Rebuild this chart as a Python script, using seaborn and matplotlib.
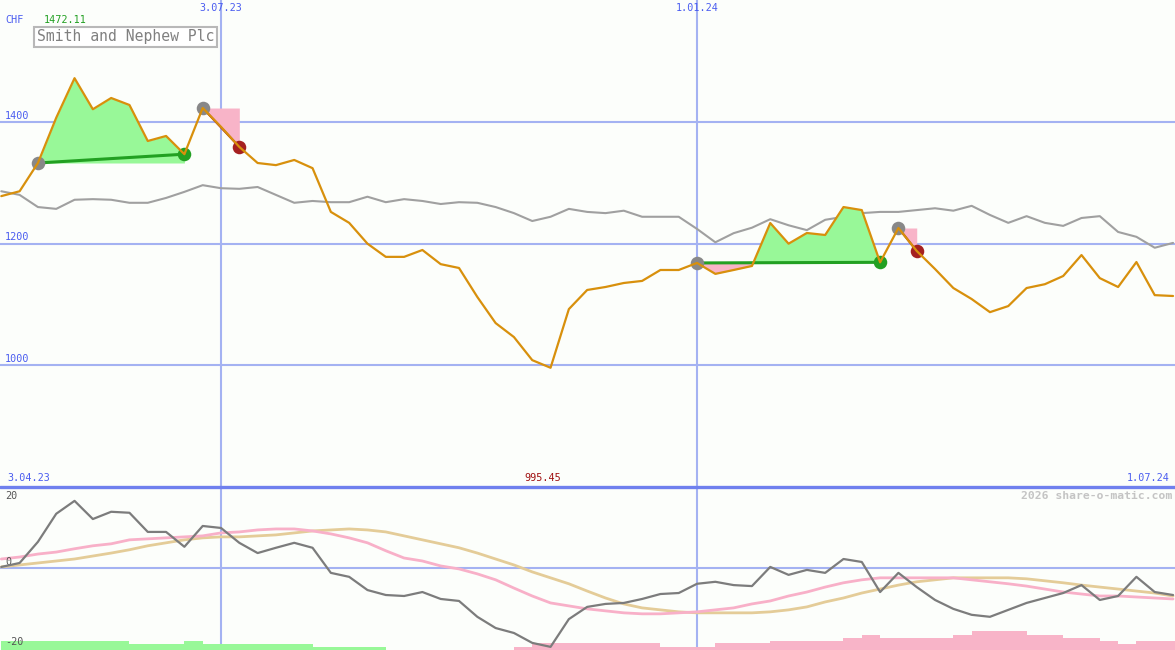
import matplotlib
matplotlib.use("Agg")
import matplotlib.pyplot as plt
import numpy as np
import pandas as pd
import seaborn as sns

# weekly closes, first week 10.04.23
first_week = "2023-04-10"
price = [1278, 1286, 1332.5, 1407, 1472.11, 1421, 1439.5, 1428, 1368.7, 1377,
         1347, 1423, 1392, 1359, 1332.5, 1329, 1337.5, 1324, 1252, 1234,
         1199.7, 1178, 1178, 1189.3, 1166, 1159.7, 1112, 1069, 1046, 1008,
         995.45, 1092, 1123.5, 1128.4, 1135, 1138.4, 1156.4, 1156.4, 1168, 1150,
         1156.4, 1163, 1233.7, 1199.7, 1217.3, 1214, 1260, 1255, 1169, 1225.5,
         1187.7, 1158, 1126.7, 1108.6, 1087, 1097, 1126.7, 1133, 1146.5, 1181,
         1143, 1128.4, 1169.5, 1115, 1113.6]
index_line = [1286, 1280, 1260, 1257, 1272, 1273, 1272, 1267, 1267, 1275,
              1285, 1296, 1291, 1290, 1293, 1280, 1267, 1270, 1268, 1268,
              1277, 1268, 1273, 1270, 1265, 1268, 1267, 1260, 1250, 1237,
              1244, 1257, 1252, 1250, 1254, 1244, 1244, 1244, 1224, 1202,
              1217, 1226, 1240, 1230, 1222, 1239, 1244, 1250, 1252, 1252,
              1255, 1258, 1254, 1262, 1247, 1234, 1245, 1234, 1229, 1242,
              1245, 1219, 1211, 1193, 1201]
momentum = [0.3, 1.5, 7.9, 16.4, 20.3, 14.8, 17.0, 16.7, 10.9, 10.9,
            6.4, 12.7, 12.1, 7.6, 4.5, 6.1, 7.6, 6.1, -1.5, -2.7,
            -6.7, -8.2, -8.5, -7.3, -9.4, -10.0, -14.8, -18.2, -19.7, -22.7,
            -23.9, -15.5, -11.8, -10.9, -10.6, -9.4, -7.9, -7.6, -4.8, -4.2,
            -5.2, -5.5, 0.3, -2.1, -0.6, -1.5, 2.7, 1.8, -7.3, -1.5,
            -5.8, -9.7, -12.4, -14.2, -14.8, -12.7, -10.6, -9.1, -7.6, -5.2,
            -9.7, -8.5, -2.7, -7.3, -8.2]
ma_fast = [2.7, 3.3, 4.2, 4.8, 5.8, 6.7, 7.3, 8.5, 8.8, 9.1,
           9.4, 9.7, 10.6, 10.9, 11.5, 11.8, 11.8, 11.2, 10.3, 9.1,
           7.6, 5.2, 3.0, 2.1, 0.6, -0.3, -1.8, -3.6, -6.1, -8.5,
           -10.6, -11.5, -12.4, -13.0, -13.6, -13.9, -13.9, -13.6, -13.3, -12.7,
           -12.1, -10.9, -10.0, -8.5, -7.3, -5.8, -4.5, -3.6, -3.0, -3.0,
           -3.0, -3.0, -3.0, -3.6, -4.2, -4.8, -5.5, -6.4, -7.3, -7.9,
           -8.5, -8.5, -8.8, -9.1, -9.4]
ma_slow = [0.3, 0.9, 1.5, 2.1, 2.7, 3.6, 4.5, 5.5, 6.7, 7.6,
           8.5, 9.1, 9.4, 9.4, 9.7, 10.0, 10.6, 11.2, 11.5, 11.8,
           11.5, 10.9, 9.7, 8.5, 7.3, 6.1, 4.5, 2.7, 0.9, -1.2,
           -3.0, -4.8, -7.0, -9.1, -10.9, -12.1, -12.7, -13.3, -13.6, -13.6,
           -13.6, -13.6, -13.3, -12.7, -11.8, -10.3, -9.1, -7.6, -6.4, -5.2,
           -4.2, -3.6, -3.0, -3.0, -3.0, -3.0, -3.3, -3.9, -4.5, -5.2,
           -5.8, -6.4, -7.0, -7.6, -8.5]
hist = [2.7, 2.7, 2.7, 2.7, 2.7, 2.7, 2.7, 1.8, 1.8, 1.8,
        2.7, 1.8, 1.8, 1.8, 1.8, 1.8, 1.8, 0.9, 0.9, 0.9,
        0.9, 0, 0, 0, 0, 0, 0, 0, -0.9, -2.1,
        -2.1, -2.1, -2.1, -2.1, -2.1, -2.1, -0.9, -0.9, -0.9, -2.1,
        -2.1, -2.1, -2.7, -2.7, -2.7, -2.7, -3.6, -4.5, -3.6, -3.6,
        -3.6, -3.6, -4.5, -5.8, -5.8, -5.8, -4.5, -4.5, -3.6, -3.6,
        -2.7, -1.8, -2.7, -2.7, -2.7]
entry_week = [2, 11, 38, 49]
exit_week = [10, 13, 48, 50]

price_ticks = [1000, 1200, 1400]
osc_ticks = [-20, 0, 20]
date_marks = ["2023-07-03", "2024-01-01"]
date_labels = ["3.07.23", "1.01.24"]
range_labels = ["3.04.23", "1.07.24"]
title = "Smith and Nephew Plc"
currency = "CHF"
credit = "2026 share-o-matic.com"

BG = "#fcfefb"
GRID = "#a4b2f2"
BLUE_TXT = "#4a5cf0"
ORANGE = "#d8900c"
GREEN_FILL = "#98f898"
PINK_FILL = "#f8b4c8"
MONO = "DejaVu Sans Mono"

sns.set_style("white")
plt.rcParams["font.family"] = [MONO]

dates = pd.date_range(first_week, periods=len(price), freq="7D")
df = pd.DataFrame({"date": dates, "price": price, "index": index_line,
                   "momentum": momentum, "ma_fast": ma_fast, "ma_slow": ma_slow,
                   "hist": hist})
x_lo = dates[0] - pd.Timedelta(hours=12)
x_hi = dates[-1] + pd.Timedelta(hours=18)

fig = plt.figure(figsize=(11.75, 6.5), dpi=100, facecolor=BG)
ax = fig.add_axes([0, 163 / 650, 1, 487 / 650])
axb = fig.add_axes([0, 0, 1, 163 / 650])
for a in (ax, axb):
    a.set_facecolor(BG)
    a.set_xlim(x_lo, x_hi)
    a.axis("off")
ax.set_ylim(799.2, 1600.8)
axb.set_ylim(-24.85, 24.5)

# grid
for t in price_ticks:
    ax.axhline(t, color=GRID, lw=1.5, zorder=1)
axb.axhline(0, color=GRID, lw=1.5, zorder=1)
for d in date_marks:
    for a in (ax, axb):
        a.axvline(pd.Timestamp(d), color=GRID, lw=1.5, zorder=1)
axb.axhline(24.5, color="#6f80ee", lw=2.4, zorder=5, clip_on=False)

# top panel lines
sns.lineplot(data=df, x="date", y="index", ax=ax, color="#a0a0a0", linewidth=1.5, zorder=2)

px = df["price"].to_numpy()
for e, x in zip(entry_week, exit_week):
    seg = df.iloc[e:x + 1]
    lvl = px[e]
    sp = seg["price"].to_numpy()
    ax.fill_between(seg["date"], sp, lvl, where=sp >= lvl, interpolate=True,
                    color=GREEN_FILL, lw=0, zorder=3)
    ax.fill_between(seg["date"], sp, lvl, where=sp <= lvl, interpolate=True,
                    color=PINK_FILL, lw=0, zorder=3)
    win = px[x] >= lvl
    ax.plot([dates[e], dates[x]], [lvl, px[x]], color="#22a022" if win else "#a01c1c",
            lw=2.2 if win else 1.5, zorder=4)
    ax.scatter([dates[e]], [lvl], s=95, color="#888888", lw=0, zorder=5)
    ax.scatter([dates[x]], [px[x]], s=95, color="#22a022" if win else "#a52020",
               lw=0, zorder=5)

sns.lineplot(data=df, x="date", y="price", ax=ax, color=ORANGE, linewidth=1.6, zorder=6)

# bottom panel
axb.bar(df["date"], df["hist"].abs(), width=7, align="edge", bottom=-24.85,
        color=[GREEN_FILL if v > 0 else PINK_FILL for v in hist], lw=0, zorder=2)
sns.lineplot(data=df, x="date", y="ma_slow", ax=axb, color="#e4cc98", linewidth=2, zorder=3)
sns.lineplot(data=df, x="date", y="ma_fast", ax=axb, color="#f8b0c8", linewidth=2, zorder=3)
sns.lineplot(data=df, x="date", y="momentum", ax=axb, color="#7c7c7c", linewidth=1.6, zorder=4)
for a in (ax, axb):
    a.set_xlim(x_lo, x_hi)
    a.set_xlabel("")
    a.set_ylabel("")

# labels
fs = 7.3
for t in price_ticks:
    ax.annotate(str(t), xy=(5 / 1175, t), xycoords=("axes fraction", "data"),
                xytext=(0, 6), textcoords="offset pixels", ha="left", va="center",
                color=BLUE_TXT, fontsize=fs)
for t in osc_ticks[1:]:
    axb.annotate(str(t), xy=(5 / 1175, t), xycoords=("axes fraction", "data"),
                 xytext=(0, 6), textcoords="offset pixels", ha="left", va="center",
                 color="#555555", fontsize=fs)
axb.annotate(str(osc_ticks[0]), xy=(5 / 1175, 0), xycoords="axes fraction",
             xytext=(0, 8), textcoords="offset pixels", ha="left", va="center",
             color="#555555", fontsize=fs)
for d, lab in zip(date_marks, date_labels):
    ax.annotate(lab, xy=(pd.Timestamp(d), 1), xycoords=("data", "axes fraction"),
                xytext=(0, -8), textcoords="offset pixels", ha="center", va="center",
                color=BLUE_TXT, fontsize=fs)
ax.annotate(currency, xy=(5 / 1175, 1), xycoords="axes fraction", xytext=(0, -20),
            textcoords="offset pixels", ha="left", va="center", color=BLUE_TXT, fontsize=fs)
imax = int(np.argmax(px))
imin = int(np.argmin(px))
ax.annotate(f"{px[imax]:.2f}", xy=(dates[imax], 1), xycoords=("data", "axes fraction"),
            xytext=(-9, -20), textcoords="offset pixels", ha="center", va="center",
            color="#22a022", fontsize=fs)
ax.annotate(f"{px[imin]:.2f}", xy=(dates[imin], 0), xycoords=("data", "axes fraction"),
            xytext=(-8, 9), textcoords="offset pixels", ha="center", va="center",
            color="#a01010", fontsize=fs)
ax.annotate(range_labels[0], xy=(0, 0), xycoords="axes fraction", xytext=(7, 9),
            textcoords="offset pixels", ha="left", va="center", color=BLUE_TXT, fontsize=fs)
ax.annotate(range_labels[1], xy=(1, 0), xycoords="axes fraction", xytext=(-5, 9),
            textcoords="offset pixels", ha="right", va="center", color=BLUE_TXT, fontsize=fs)
ax.annotate(title, xy=(0, 1), xycoords="axes fraction", xytext=(37, -37),
            textcoords="offset pixels", ha="left", va="center", color="#808080",
            fontsize=10.6,
            bbox=dict(boxstyle="square,pad=0.2", fc="white", ec="#b8b8b8", lw=1.5))
axb.annotate(credit, xy=(1, 1), xycoords="axes fraction", xytext=(-3, -9),
             textcoords="offset pixels", ha="right", va="center", color="#c4c4c4",
             fontsize=8.2, fontweight="bold")

fig.savefig("out.png", dpi=100, facecolor=BG)
